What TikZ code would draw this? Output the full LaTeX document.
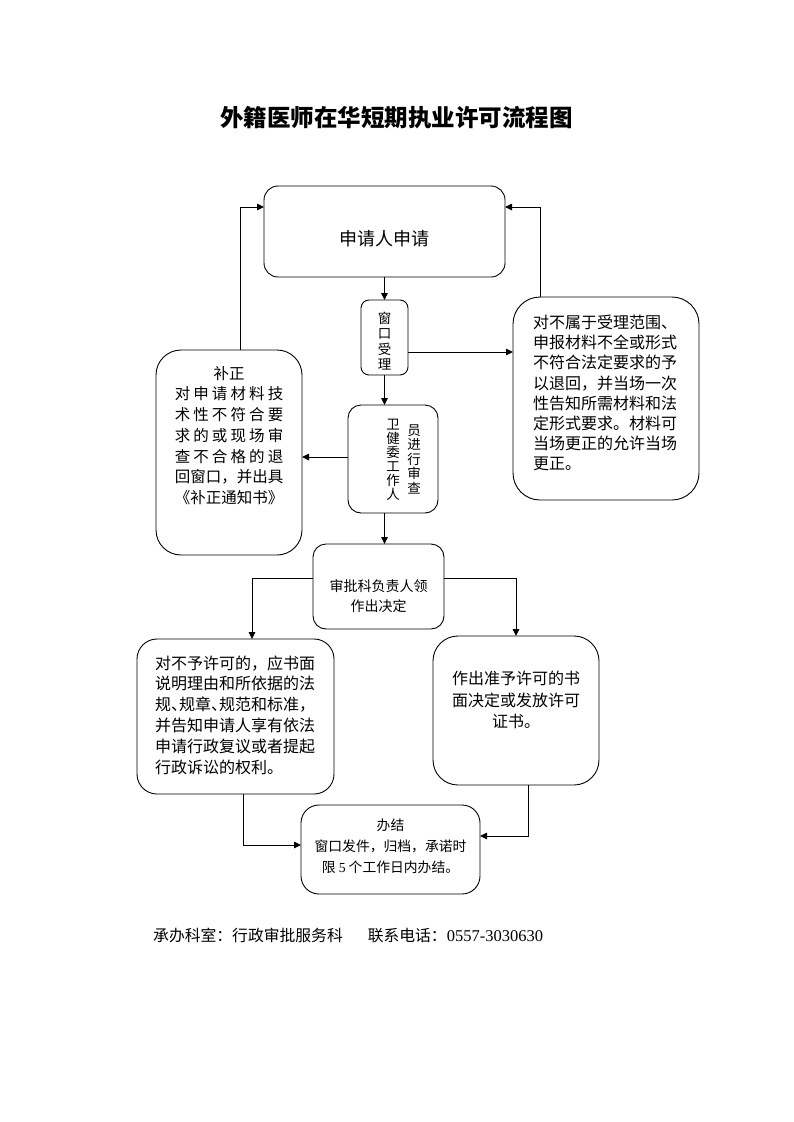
\documentclass[tikz,border=0pt]{standalone}
\usepackage{fontspec}
\setmainfont{Noto Sans CJK SC}
\newfontfamily\latin{Liberation Serif}
\usetikzlibrary{arrows.meta}
\tikzset{box/.style={draw, line width=0.9pt, rounded corners=#1, inner sep=0mm, outer sep=0mm}, box/.default=13pt}
\tikzset{txt/.style={inner sep=0mm, font=\fontsize{16}{20.5}\selectfont}}
\tikzset{small/.style={inner sep=0mm, font=\fontsize{14}{20.5}\selectfont}}
\tikzset{arr/.style={line width=0.9pt, -{Triangle[length=7pt, width=6.5pt]}}}
\newcommand\spreadline[1]{\makebox[7em][s]{\spreadloop#1\relax}}
\def\spreadloop#1#2{#1\ifx\relax#2\else\hfil\expandafter\spreadloop\expandafter#2\fi}

\begin{document}
\begin{tikzpicture}[x=1pt, y=-1pt]
    \useasboundingbox (0,0) rectangle (793,1122);

    \node (title) [inner sep=0mm, font=\fontsize{23.5}{26}\selectfont\bfseries] at (396.5,118) {外籍医师在华短期执业许可流程图};

    \node (apply) [box=14pt, minimum width=241pt, minimum height=91pt] at (384.5,231.5) {};
    \node (accept) [box=8pt, minimum width=47pt, minimum height=75pt] at (384.5,337.5) {};
    \node (review) [box=13pt, minimum width=90pt, minimum height=108pt] at (393,459) {};
    \node (reject) [box=27pt, minimum width=186pt, minimum height=203pt] at (606,398.5) {};
    \node (fix) [box=25pt, minimum width=146pt, minimum height=205pt] at (229,452.5) {};
    \node (decide) [box=13pt, minimum width=131pt, minimum height=85pt] at (378.5,586.5) {};
    \node (refuse) [box=20pt, minimum width=197pt, minimum height=155pt] at (235.5,716.5) {};
    \node (grant) [box=25pt, minimum width=166pt, minimum height=149pt] at (516,710.5) {};
    \node (finish) [box=18pt, minimum width=179pt, minimum height=89pt] at (390.5,849.5) {};

    \node (applytxt) [txt, font=\fontsize{18}{20}\selectfont] at (384.5,239) {申请人申请};
    \node (accepttxt) [small, align=center, font=\fontsize{13.5}{15.3}\selectfont] at (384.5,341) {窗\\口\\受\\理};
    \node (reviewtxtl) [small, align=center, font=\fontsize{13.5}{14}\selectfont] at (393,460) {卫\\健\\委\\工\\作\\人};
    \node (reviewtxtr) [small, align=center, font=\fontsize{13.5}{14.5}\selectfont] at (414,459) {员\\进\\行\\审\\查};
    \node (rejecttxt) [txt, anchor=west, align=left, font=\fontsize{16}{20.2}\selectfont] at (533,393) {对不属于受理范围、\\申报材料不全或形式\\不符合法定要求的予\\以退回，并当场一次\\性告知所需材料和法\\定形式要求。材料可\\当场更正的允许当场\\更正。};
    \node (fixtxt) [txt, align=center, font=\fontsize{15.5}{20.7}\selectfont] at (229,435.5) {补正\\\spreadline{对申请材料技}\\\spreadline{术性不符合要}\\\spreadline{求的或现场审}\\\spreadline{查不合格的退}\\回窗口，并出具\\《补正通知书》};
    \node (decidetxt) [small, align=center] at (378.5,596) {审批科负责人领\\作出决定};
    \node (refusetxt) [txt, anchor=west, align=left, font=\fontsize{16}{20.8}\selectfont] at (155,715) {对不予许可的，应书面\\说明理由和所依据的法\\规\makebox[0.5em][l]{、}规章\makebox[0.5em][l]{、}规范和标准，\\并告知申请人享有依法\\申请行政复议或者提起\\行政诉讼的权利。};
    \node (granttxt) [txt, align=center, font=\fontsize{16}{21.5}\selectfont] at (516,700) {作出准予许可的书\\面决定或发放许可\\证书。};
    \node (finishtxt) [small, align=center, font=\fontsize{13.8}{21}\selectfont] at (390.5,846) {办结\\窗口发件，归档，承诺时\\限 {\latin 5} 个工作日内办结。};

    \node (footer) [txt, anchor=west, font=\fontsize{15.8}{18}\selectfont] at (153,935) {承办科室：行政审批服务科\hspace{25pt}联系电话：{\latin\fontsize{16.5}{18}\selectfont 0557-3030630}};

    \draw[arr] (apply) -- (accept);
    \draw[arr] (accept.south) -- (accept.south |- review.north);
    \draw[arr] ([yshift=-14.5pt]accept.east) -- ([yshift=-14.5pt]accept.east -| reject.west);
    \draw[arr] ([xshift=27pt]reject.north west) |- ([yshift=24.5pt]apply.east);
    \draw[arr] ([xshift=84.5pt]fix.north west) |- ([yshift=24.5pt]apply.west);
    \draw[arr] ([yshift=2pt]review.west) -- ([yshift=2pt]review.west -| fix.east);
    \draw[arr] (review.south -| accept) -- (decide.north -| accept);
    \draw[arr] ([yshift=8.5pt]decide.west) -| ([xshift=16.5pt]refuse.north);
    \draw[arr] ([yshift=8.5pt]decide.east) -| (grant.north);
    \draw[arr] ([xshift=7.5pt]refuse.south) |- ([yshift=4.5pt]finish.west);
    \draw[arr] ([xshift=12pt]grant.south) |- ([yshift=13.5pt]finish.east);
\end{tikzpicture}
\end{document}
